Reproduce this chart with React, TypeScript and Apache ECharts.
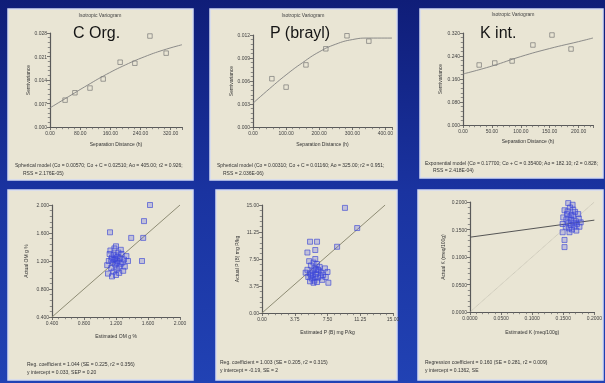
import React, { useEffect, useRef } from "react";
import * as echarts from "echarts";

const FONT = "'Liberation Sans', Arial, sans-serif";

// ---- Top row: experimental semivariograms + fitted models ----
const cOrgLag = [40, 66, 106, 141, 186, 225, 265, 308];
const cOrgGamma = [0.008, 0.0102, 0.0116, 0.0143, 0.0193, 0.019, 0.0271, 0.022];
const cOrgModelLag = [0, 50, 100, 150, 200, 250, 300, 350];
const cOrgModel = [0.0057, 0.0091, 0.0125, 0.0157, 0.0185, 0.0209, 0.0229, 0.0245];

const pLag = [57, 100, 160, 220, 284, 350];
const pGamma = [0.0063, 0.0052, 0.0081, 0.0102, 0.0119, 0.0112];
const pModelLag = [0, 50, 100, 150, 200, 250, 300, 350, 420];
const pModel = [0.0031, 0.005, 0.0068, 0.0084, 0.0098, 0.0108, 0.0114, 0.0116, 0.0116];

const kLag = [28, 55, 85, 121, 154, 187];
const kGamma = [0.2087, 0.2157, 0.2226, 0.2783, 0.313, 0.2643];
const kModelLag = [0, 50, 100, 150, 200, 225];
const kModel = [0.1774, 0.205, 0.238, 0.266, 0.29, 0.3026];

// ---- Bottom row: cross-validation (estimated vs actual) ----
const omPoints: [number, number][] = [
  [1.12, 1.3], [1.15, 1.25], [1.18, 1.22], [1.2, 1.28], [1.22, 1.2], [1.25, 1.24], [1.19, 1.15],
  [1.16, 1.18], [1.23, 1.32], [1.27, 1.3], [1.14, 1.1], [1.17, 1.05], [1.21, 1.08], [1.24, 1.12],
  [1.28, 1.18], [1.3, 1.22], [1.11, 1.2], [1.13, 1.35], [1.18, 1.38], [1.26, 1.36], [1.33, 1.27],
  [1.35, 1.2], [1.1, 1.02], [1.15, 0.98], [1.2, 1.0], [1.24, 1.03], [1.29, 1.06], [1.09, 1.14],
  [1.22, 1.26], [1.19, 1.23], [1.17, 1.29], [1.21, 1.17], [1.26, 1.16], [1.31, 1.12], [1.14, 1.22],
  [1.625, 2.0], [1.55, 1.77], [1.54, 1.53], [1.125, 1.61], [1.39, 1.53], [1.2, 1.41], [1.525, 1.2],
];
const omLine: [number, number][] = [[0.4, 0.4], [2.0, 2.0]];

const pbPoints: [number, number][] = [
  [5.2, 6.0], [5.5, 5.5], [5.8, 5.8], [6.0, 6.2], [6.2, 5.4], [6.5, 5.9], [6.8, 5.6], [5.6, 6.6],
  [5.9, 7.0], [6.3, 6.8], [6.1, 7.5], [5.4, 7.2], [5.7, 4.8], [6.0, 4.5], [6.4, 4.9], [6.7, 5.1],
  [7.0, 5.3], [7.3, 5.0], [5.3, 5.0], [5.0, 5.6], [5.9, 4.2], [6.3, 4.3], [6.9, 4.6], [7.5, 5.7],
  [7.2, 6.2], [6.6, 6.4], [5.6, 5.2], [6.1, 5.0], [5.5, 4.4], [6.4, 6.0], [5.8, 5.3], [6.2, 6.0],
  [9.5, 14.6], [10.9, 11.8], [8.6, 9.2], [5.5, 9.9], [6.3, 9.9], [7.6, 4.2], [6.1, 8.75], [5.2, 8.4],
];
const pbLine: [number, number][] = [[0, 0], [14.1, 15]];

const kxPoints: [number, number][] = [
  [0.152, 0.185], [0.156, 0.178], [0.16, 0.172], [0.163, 0.168], [0.166, 0.175], [0.17, 0.165],
  [0.158, 0.162], [0.162, 0.158], [0.168, 0.155], [0.172, 0.16], [0.175, 0.17], [0.155, 0.168],
  [0.15, 0.172], [0.161, 0.19], [0.165, 0.195], [0.158, 0.198], [0.169, 0.182], [0.174, 0.178],
  [0.178, 0.163], [0.164, 0.15], [0.16, 0.145], [0.171, 0.148], [0.154, 0.155], [0.167, 0.162],
  [0.163, 0.176], [0.157, 0.183], [0.149, 0.16], [0.176, 0.155], [0.159, 0.152], [0.166, 0.186],
  [0.152, 0.131], [0.152, 0.118], [0.149, 0.145],
];
const kxRegLine: [number, number][] = [[0, 0.136], [0.2, 0.167]];
const kxOneToOne: [number, number][] = [[0, 0], [0.2, 0.2]];

// ---- Texts ----
const smallTitles = ["Isotropic Variogram", "Isotropic Variogram", "Isotropic Variogram"];
const bigLabels = ["C Org.", "P (brayl)", "K int."];
const captions = [
  ["Spherical model (Co = 0.00570; Co + C = 0.02510; Ao = 405.00; r2 = 0.926;", "RSS = 2.176E-05)"],
  ["Spherical model (Co = 0.00310; Co + C = 0.01160; Ao = 325.00; r2 = 0.951;", "RSS = 2.036E-06)"],
  ["Exponential model (Co = 0.17700; Co + C = 0.35400; Ao = 182.10; r2 = 0.828;", "RSS = 2.418E-04)"],
  ["Reg. coefficient = 1.044 (SE = 0.225, r2 = 0.356)", "y intercept = 0.033, SEP = 0.20"],
  ["Reg. coefficient = 1.003 (SE = 0.205, r2 = 0.315)", "y intercept = -0.19, SE = 2"],
  ["Regression coefficient = 0.160 (SE = 0.281, r2 = 0.009)", "y intercept = 0.1362, SE"],
];
const xNames = [
  "Separation Distance (h)", "Separation Distance (h)", "Separation Distance (h)",
  "Estimated OM g %", "Estimated P (B) mg P/kg", "Estimated K (meq/100g)",
];
const yNames = [
  "Semivariance", "Semivariance", "Semivariance",
  "Actual OM g %", "Actual P (B) mg P/kg", "Actual K (meq/100g)",
];

export default function App() {
  const ref = useRef<HTMLDivElement>(null);

  useEffect(() => {
    if (!ref.current) return;
    const chart = echarts.init(ref.current, null, { renderer: "svg" });

    const panels = [
      { x: 8, y: 9, w: 185, h: 171 },
      { x: 210, y: 9, w: 187, h: 171 },
      { x: 420, y: 9, w: 183, h: 169 },
      { x: 8, y: 190, w: 185, h: 190 },
      { x: 216, y: 190, w: 181, h: 190 },
      { x: 418, y: 190, w: 185, h: 190 },
    ];
    const grids = [
      { left: 50, top: 33, width: 132, height: 94 },
      { left: 253, top: 35, width: 139, height: 92 },
      { left: 463, top: 33, width: 130, height: 92 },
      { left: 52, top: 205, width: 128, height: 112 },
      { left: 262, top: 205, width: 131, height: 108 },
      { left: 470, top: 202, width: 125, height: 110 },
    ];
    const xCfg = [
      { min: 0, max: 350, interval: 80, d: 2, gap: 14, hideMax: true },
      { min: 0, max: 420, interval: 100, d: 2, gap: 14, hideMax: true },
      { min: 0, max: 225, interval: 50, d: 2, gap: 13, hideMax: true },
      { min: 0.4, max: 2.0, interval: 0.4, d: 3, gap: 16, hideMax: false },
      { min: 0, max: 15, interval: 3.75, d: 2, gap: 16, hideMax: false },
      { min: 0, max: 0.2, interval: 0.05, d: 4, gap: 17, hideMax: false },
    ];
    const yCfg = [
      { min: 0, max: 0.028, interval: 0.007, d: 3, gap: 18 },
      { min: 0, max: 0.012, interval: 0.003, d: 3, gap: 19 },
      { min: 0, max: 0.32, interval: 0.08, d: 3, gap: 21 },
      { min: 0.4, max: 2.0, interval: 0.4, d: 3, gap: 24 },
      { min: 0, max: 15, interval: 3.75, d: 2, gap: 23 },
      { min: 0, max: 0.2, interval: 0.05, d: 4, gap: 25 },
    ];

    const axisCommon = (i: number) => ({
      gridIndex: i,
      type: "value",
      splitLine: { show: false },
      axisLine: { show: true, onZero: false, lineStyle: { color: "#5a5a5a", width: 1.2 } },
      axisTick: { show: true, length: 3, lineStyle: { color: "#555", width: 0.8 } },
      minorTick: { show: true, splitNumber: 5, length: 2.2, lineStyle: { color: "#666", width: 0.7 } },
      nameLocation: "middle",
      nameTextStyle: { fontSize: 5, color: "#333", fontFamily: FONT },
    });

    const xAxis = xCfg.map((c, i) => ({
      ...axisCommon(i),
      min: c.min,
      max: c.max,
      interval: c.interval,
      name: xNames[i],
      nameGap: c.gap,
      axisLabel: {
        fontSize: 5, color: "#444", fontFamily: FONT, margin: 3,
        showMaxLabel: !c.hideMax,
        formatter: (v: number) => v.toFixed(c.d),
      },
    }));
    const yAxis = yCfg.map((c, i) => ({
      ...axisCommon(i),
      min: c.min,
      max: c.max,
      interval: c.interval,
      name: yNames[i],
      nameGap: c.gap,
      axisLabel: {
        fontSize: 5, color: "#444", fontFamily: FONT, margin: 3,
        formatter: (v: number) => v.toFixed(c.d),
      },
    }));

    const zip = (a: number[], b: number[]) => a.map((v, k) => [v, b[k]]);
    const grayPts = (i: number, data: number[][]) => ({
      type: "scatter", xAxisIndex: i, yAxisIndex: i, data, symbol: "rect", symbolSize: 4.5,
      itemStyle: { color: "rgba(0,0,0,0)", borderColor: "#6e6e6e", borderWidth: 0.8 },
    });
    const model = (i: number, data: number[][]) => ({
      type: "line", xAxisIndex: i, yAxisIndex: i, data, smooth: true, symbol: "none",
      lineStyle: { color: "#808080", width: 0.9 },
    });
    const bluePts = (i: number, data: number[][]) => ({
      type: "scatter", xAxisIndex: i, yAxisIndex: i, data, symbol: "rect", symbolSize: 5, z: 3,
      itemStyle: { color: "rgba(70,80,230,0.3)", borderColor: "#3a46d6", borderWidth: 0.8 },
    });
    const straight = (i: number, data: number[][], color: string, type = "solid", width = 1) => ({
      type: "line", xAxisIndex: i, yAxisIndex: i, data, symbol: "none",
      lineStyle: { color, width, type },
    });

    const series = [
      model(0, zip(cOrgModelLag, cOrgModel)),
      grayPts(0, zip(cOrgLag, cOrgGamma)),
      model(1, zip(pModelLag, pModel)),
      grayPts(1, zip(pLag, pGamma)),
      model(2, zip(kModelLag, kModel)),
      grayPts(2, zip(kLag, kGamma)),
      straight(3, omLine, "#8e8c74"),
      bluePts(3, omPoints),
      straight(4, pbLine, "#8e8c74"),
      bluePts(4, pbPoints),
      straight(5, kxOneToOne, "#b5b3a5", "dotted", 0.8),
      straight(5, kxRegLine, "#555"),
      bluePts(5, kxPoints),
    ];

    const graphic: any[] = [
      {
        type: "rect", z: -10, silent: true,
        shape: { x: 0, y: 0, width: 605, height: 383 },
        style: {
          fill: new echarts.graphic.LinearGradient(0, 0, 0, 1, [
            { offset: 0, color: "#0f1d78" },
            { offset: 0.5, color: "#1a33a0" },
            { offset: 1, color: "#2142b4" },
          ]),
        },
      },
    ];
    panels.forEach((p) => {
      graphic.push({
        type: "rect", z: -5, silent: true,
        shape: { x: p.x, y: p.y, width: p.w, height: p.h },
        style: { fill: "#e9e5d4", stroke: "#d4daf2", lineWidth: 1.5 },
      });
    });
    const smallTitlePos = [[100, 15], [303, 15], [513, 14]];
    smallTitlePos.forEach(([x, y], i) => {
      graphic.push({
        type: "text", x, y, z: 5,
        style: { text: smallTitles[i], fontSize: 5, fill: "#444", fontFamily: FONT, align: "center", verticalAlign: "middle" },
      });
    });
    const bigPos = [[73, 32], [270, 32], [480, 32]];
    bigPos.forEach(([x, y], i) => {
      graphic.push({
        type: "text", x, y, z: 5,
        style: { text: bigLabels[i], fontSize: 16, fill: "#151515", fontFamily: FONT, align: "left", verticalAlign: "middle" },
      });
    });
    const capPos = [
      [[15, 165], [23, 173]],
      [[217, 165], [223, 173]],
      [[425, 163], [433, 170]],
      [[27, 364], [27, 372]],
      [[220, 362], [220, 370]],
      [[425, 362], [425, 370]],
    ];
    capPos.forEach((lines, i) => {
      lines.forEach(([x, y], j) => {
        graphic.push({
          type: "text", x, y, z: 5,
          style: { text: captions[i][j], fontSize: 5, fill: "#333", fontFamily: FONT, align: "left", verticalAlign: "middle" },
        });
      });
    });

    chart.setOption({
      animation: false,
      grid: grids.map((g) => ({ ...g, containLabel: false })),
      xAxis,
      yAxis,
      series,
      graphic,
    });

    return () => chart.dispose();
  }, []);

  return (
    <div
      ref={ref}
      style={{ position: "fixed", left: 0, top: 0, width: 605, height: 383 }}
    />
  );
}
